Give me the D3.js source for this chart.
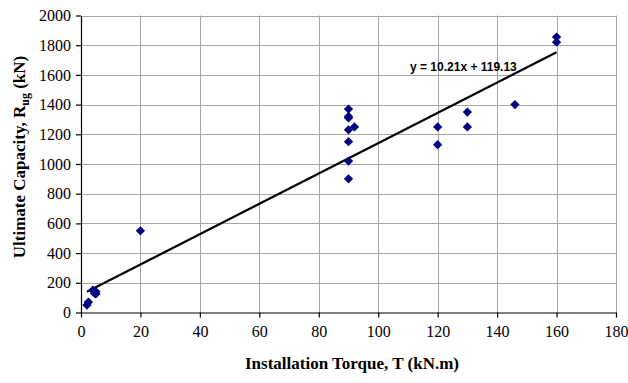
<!DOCTYPE html>
<html>
<head>
<meta charset="utf-8">
<script src="https://cdn.jsdelivr.net/npm/d3@7"></script>
<style>
  body { margin: 0; background: #fff; }
  svg { display: block; }
  .tick text { font-family: "Liberation Serif", "Times New Roman", Times, serif; font-size: 16px; }
</style>
</head>
<body>
<svg id="chart" width="628" height="383"></svg>
<script>
// Data
const torque   = [2, 2.5, 4, 4.5, 5, 5, 20, 90, 90, 90, 90, 90, 90, 90, 92, 120, 120, 130, 130, 146, 160, 160];
const capacity = [50, 70, 150, 130, 140, 125, 550, 1370, 1320, 1310, 1230, 1150, 1020, 900, 1250, 1250, 1130, 1350, 1250, 1400, 1855, 1820];
const xTicks = [0, 20, 40, 60, 80, 100, 120, 140, 160, 180];
const yTicks = [0, 200, 400, 600, 800, 1000, 1200, 1400, 1600, 1800, 2000];
const trendSlope = 10.21;
const trendIntercept = 119.13;
const trendLabel = "y = 10.21x + 119.13";

const width = 628, height = 383;
const margin = { top: 15.5, right: 12, bottom: 70.5, left: 81 };
const serif = "Liberation Serif, Times New Roman, Times, serif";

const $svg = d3.select("#chart");

const x = d3.scaleLinear()
    .domain([0, 180])
    .range([margin.left, width - margin.right]);
const y = d3.scaleLinear()
    .domain([0, 2000])
    .range([height - margin.bottom, margin.top]);

// Grid
const $grid = $svg.append("g");
$grid.selectAll("line.v")
  .data(xTicks.slice(1))
  .join("line")
    .attr("x1", d => Math.round(x(d)) + 0.5)
    .attr("x2", d => Math.round(x(d)) + 0.5)
    .attr("y1", y(2000))
    .attr("y2", y(0))
    .attr("stroke", "#a6a6a6");
$grid.selectAll("line.h")
  .data(yTicks.slice(1))
  .join("line")
    .attr("y1", d => Math.round(y(d)) + 0.5)
    .attr("y2", d => Math.round(y(d)) + 0.5)
    .attr("x1", x(0))
    .attr("x2", x(180))
    .attr("stroke", "#a6a6a6");

// Axes
const xAxis = d3.axisBottom(x).tickValues(xTicks).tickSize(5).tickSizeOuter(0).tickFormat(d3.format("d"));
const yAxis = d3.axisLeft(y).tickValues(yTicks).tickSize(5).tickSizeOuter(0).tickFormat(d3.format("d"));

const $xAxis = $svg.append("g")
    .attr("transform", `translate(0,${height - margin.bottom})`)
    .call(xAxis);
const $yAxis = $svg.append("g")
    .attr("transform", `translate(${margin.left},0)`)
    .call(yAxis);

[$xAxis, $yAxis].forEach(a => {
  a.attr("font-family", serif).attr("font-size", 16);
  a.selectAll("path, line").attr("stroke", "#000").attr("stroke-width", 1.2);
  a.selectAll("text").attr("fill", "#000");
});
$xAxis.selectAll("text").attr("y", 13).attr("dy", "0.71em");
$yAxis.selectAll("text").attr("x", -10);

// Trend line
const trendX = d3.extent(torque);
$svg.append("line")
    .attr("x1", x(trendX[0]))
    .attr("y1", y(trendSlope * trendX[0] + trendIntercept))
    .attr("x2", x(trendX[1]))
    .attr("y2", y(trendSlope * trendX[1] + trendIntercept))
    .attr("stroke", "#000")
    .attr("stroke-width", 2.2);

// Points
const diamond = d3.symbol().type(d3.symbolDiamond2).size(55);
$svg.append("g")
  .selectAll("path")
  .data(torque.map((t, i) => ({ t, c: capacity[i] })))
  .join("path")
    .attr("d", diamond)
    .attr("transform", d => `translate(${x(d.t)},${y(d.c)})`)
    .attr("fill", "#000080");

// Equation label
$svg.append("text")
    .attr("x", 410)
    .attr("y", 71)
    .style("font-family", "'Liberation Sans', Arial, sans-serif")
    .style("font-size", "12px")
    .style("font-weight", "bold")
    .text(trendLabel);

// Axis titles
$svg.append("text")
    .attr("x", 352)
    .attr("y", 369)
    .attr("text-anchor", "middle")
    .style("font-family", serif)
    .style("font-size", "17px")
    .style("font-weight", "bold")
    .text("Installation Torque, T (kN.m)");

const $yTitle = $svg.append("text")
    .attr("transform", `translate(25,157) rotate(-90)`)
    .attr("text-anchor", "middle")
    .style("font-family", serif)
    .style("font-size", "17px")
    .style("font-weight", "bold");
$yTitle.append("tspan").text("Ultimate Capacity, R");
$yTitle.append("tspan").attr("dy", 4).style("font-size", "12px").text("ug");
$yTitle.append("tspan").attr("dy", -4).text(" (kN)");
</script>
</body>
</html>
